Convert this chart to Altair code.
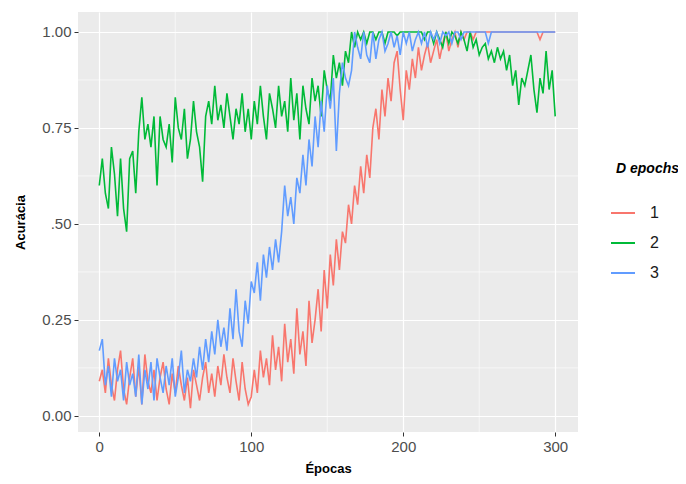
import altair as alt
import pandas as pd

epochs = list(range(0, 301, 2))

acc_1 = [
    0.09, 0.12, 0.06, 0.15, 0.08, 0.04, 0.12, 0.17, 0.07, 0.03, 0.10,
    0.15, 0.05, 0.13, 0.03, 0.16, 0.09, 0.06, 0.12, 0.04, 0.10,
    0.14, 0.07, 0.03, 0.11, 0.06, 0.13, 0.08, 0.04, 0.10, 0.02,
    0.12, 0.08, 0.04, 0.10, 0.14, 0.06, 0.11, 0.05, 0.13, 0.08,
    0.16, 0.10, 0.06, 0.15, 0.09, 0.04, 0.14, 0.07, 0.03, 0.05,
    0.12, 0.06, 0.17, 0.10, 0.15, 0.08, 0.21, 0.12, 0.18, 0.09,
    0.24, 0.14, 0.20, 0.11, 0.28, 0.16, 0.22, 0.13, 0.30, 0.19,
    0.25, 0.33, 0.22, 0.38, 0.28, 0.42, 0.34, 0.46, 0.38, 0.48,
    0.45, 0.55, 0.50, 0.60, 0.55, 0.65, 0.58, 0.68, 0.62, 0.75,
    0.80, 0.72, 0.85, 0.78, 0.88, 0.82, 0.92, 0.95, 0.85, 0.77,
    0.90, 0.85, 0.93, 0.88, 0.96, 0.90, 0.94, 0.97, 0.92, 0.95,
    0.98, 0.93, 0.97, 1.00, 0.95, 0.98, 1.00, 0.96, 1.00, 0.98,
    1.00, 1.00, 0.98, 1.00, 1.00, 1.00, 1.00, 1.00, 1.00, 1.00,
    1.00, 1.00, 1.00, 1.00, 1.00, 1.00, 1.00, 1.00, 1.00, 1.00,
    1.00, 1.00, 1.00, 1.00, 0.98, 1.00, 1.00, 1.00, 1.00, 1.00,
]

acc_2 = [
    0.60, 0.67, 0.58, 0.54, 0.70, 0.63, 0.52, 0.67, 0.54, 0.48, 0.67,
    0.69, 0.58, 0.74, 0.83, 0.72, 0.76, 0.70, 0.78, 0.60, 0.78,
    0.72, 0.70, 0.76, 0.66, 0.83, 0.75, 0.72, 0.80, 0.67, 0.72,
    0.82, 0.74, 0.70, 0.61, 0.78, 0.82, 0.76, 0.86, 0.77, 0.81,
    0.75, 0.84, 0.78, 0.72, 0.80, 0.76, 0.84, 0.74, 0.80, 0.72,
    0.82, 0.76, 0.86, 0.78, 0.72, 0.84, 0.80, 0.75, 0.86, 0.78,
    0.82, 0.74, 0.88, 0.77, 0.84, 0.72, 0.86, 0.80, 0.76, 0.88,
    0.82, 0.86, 0.78, 0.90, 0.85, 0.82, 0.94, 0.88, 0.92, 0.86,
    0.95, 0.92, 1.00, 0.96, 1.00, 0.98, 1.00, 0.97, 1.00, 1.00,
    0.98, 1.00, 1.00, 0.97, 1.00, 1.00, 1.00, 0.99, 1.00, 1.00,
    1.00, 1.00, 1.00, 1.00, 1.00, 1.00, 0.98, 1.00, 1.00, 0.97,
    1.00, 0.98, 0.96, 1.00, 0.97, 1.00, 0.99, 0.97, 1.00, 0.98,
    0.95, 1.00, 0.96, 0.98, 0.94, 0.96, 0.97, 0.93, 0.95, 0.92,
    0.96, 0.93, 0.95, 0.90, 0.94, 0.86, 0.90, 0.81, 0.88, 0.86,
    0.90, 0.94, 0.85, 0.79, 0.88, 0.84, 0.95, 0.85, 0.90, 0.78,
]

acc_3 = [
    0.17, 0.20, 0.08, 0.13, 0.05, 0.15, 0.09, 0.12, 0.04, 0.14, 0.08,
    0.11, 0.05, 0.16, 0.03, 0.12, 0.07, 0.14, 0.04, 0.15, 0.10,
    0.06, 0.13, 0.08, 0.15, 0.05, 0.10, 0.17, 0.06, 0.12, 0.09,
    0.15, 0.10, 0.18, 0.12, 0.20, 0.14, 0.22, 0.16, 0.25, 0.18,
    0.23, 0.17, 0.28, 0.20, 0.33, 0.22, 0.18, 0.30, 0.24, 0.35,
    0.32, 0.40, 0.30, 0.42, 0.36, 0.44, 0.38, 0.46, 0.40, 0.48,
    0.60, 0.52, 0.57, 0.50, 0.62, 0.58, 0.68, 0.60, 0.72, 0.65,
    0.78, 0.70, 0.82, 0.74, 0.86, 0.80, 0.88, 0.69, 0.84, 0.92,
    0.88, 0.86, 0.90, 1.00, 0.96, 0.93, 1.00, 0.94, 0.92, 1.00,
    0.93, 0.98, 1.00, 0.95, 0.97, 1.00, 0.96, 0.99, 0.94, 1.00,
    0.97, 1.00, 0.95, 0.98, 1.00, 0.97, 1.00, 0.96, 1.00, 0.98,
    1.00, 0.97, 1.00, 0.99, 1.00, 0.97, 1.00, 1.00, 0.98, 1.00,
    1.00, 1.00, 1.00, 1.00, 1.00, 1.00, 1.00, 0.97, 1.00, 1.00,
    1.00, 1.00, 1.00, 1.00, 1.00, 1.00, 1.00, 1.00, 1.00, 1.00,
    1.00, 1.00, 1.00, 1.00, 1.00, 1.00, 1.00, 1.00, 1.00, 1.00,
]

series_names = ["1", "2", "3"]
series_colors = ["#F8766D", "#00BA38", "#619CFF"]
x_major = [0, 100, 200, 300]
x_minor = [50, 150, 250]
y_major = [0.0, 0.25, 0.5, 0.75, 1.0]
y_minor = [0.125, 0.375, 0.625, 0.875]

rows = []
for name, vals in zip(series_names, [acc_1, acc_2, acc_3]):
    for e, v in zip(epochs, vals):
        rows.append({"Épocas": e, "Acurácia": v, "D epochs": name})
df = pd.DataFrame(rows)

FONT = "Liberation Sans"
x_scale = alt.Scale(domain=[-14, 315], nice=False, zero=False)
y_scale = alt.Scale(domain=[-0.042, 1.052], nice=False, zero=False)

xminor = alt.Chart(pd.DataFrame({"x": x_minor})).mark_rule(
    color="white", strokeWidth=0.6
).encode(x=alt.X("x:Q", scale=x_scale))
yminor = alt.Chart(pd.DataFrame({"y": y_minor})).mark_rule(
    color="white", strokeWidth=0.6
).encode(y=alt.Y("y:Q", scale=y_scale))

lines = alt.Chart(df).mark_line(strokeWidth=1.6, clip=True).encode(
    x=alt.X(
        "Épocas:Q",
        scale=x_scale,
        axis=alt.Axis(values=x_major, format="d", title="Épocas"),
    ),
    y=alt.Y(
        "Acurácia:Q",
        scale=y_scale,
        axis=alt.Axis(
            values=y_major,
            title="Acurácia",
            labelExpr="datum.value == 0.5 ? '.50' : format(datum.value, '.2f')",
        ),
    ),
    color=alt.Color(
        "D epochs:N",
        scale=alt.Scale(domain=series_names, range=series_colors),
        legend=alt.Legend(
            title="D epochs",
            orient="none",
            legendX=538,
            legendY=150,
            symbolType="stroke",
            symbolSize=576,
            symbolStrokeWidth=2,
            symbolOffset=-6,
            rowPadding=9,
            titlePadding=24,
            labelOffset=14,
        ),
    ),
    detail="D epochs:N",
)

chart = alt.layer(xminor, yminor, lines).properties(
    width=500,
    height=420,
    autosize=alt.AutoSizeParams(type="none"),
    padding={"left": 70, "top": 4, "right": 100, "bottom": 44},
).configure_view(
    fill="#EBEBEB", stroke=None
).configure_axis(
    gridColor="white",
    gridWidth=1.2,
    domain=False,
    tickColor="#333333",
    tickSize=4,
    tickWidth=1,
    labelFont=FONT,
    labelFontSize=15,
    labelColor="#4D4D4D",
    labelPadding=3,
    titleFont=FONT,
    titleFontSize=13,
    titleFontWeight="bold",
    titleColor="black",
).configure_axisX(
    titlePadding=8,
).configure_axisY(
    titlePadding=14,
).configure_legend(
    titleFont=FONT,
    titleFontSize=14,
    titleFontWeight="bold",
    titleFontStyle="italic",
    titleColor="black",
    labelFont=FONT,
    labelFontSize=16,
    labelColor="#1A1A1A",
)

chart.save("out.html", embed_options={"renderer": "svg", "actions": False})
